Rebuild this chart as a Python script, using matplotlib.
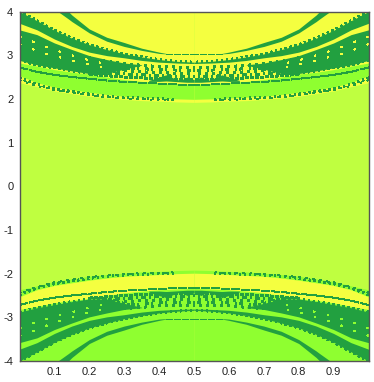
import matplotlib
matplotlib.use("Agg")
import matplotlib.pyplot as plt
import numpy as np

plt.rcParams['font.family'] = ['Liberation Sans', 'DejaVu Sans']
plt.rcParams['axes.unicode_minus'] = False

# Attractor colours
YELLOW = '#F4FF40'; MID = '#BFFF40'; GREEN = '#8FFF30'; DARK = '#22A040'

x_ticks = [0.1, 0.2, 0.3, 0.4, 0.5, 0.6, 0.7, 0.8, 0.9]
y_ticks = [-4, -3, -2, -1, 0, 1, 2, 3, 4]

knots = [0, .05, .10, .15, .20, .25, .30, .35, .40, .45, .50]
yellow_low = [2.37, 2.28, 2.18, 2.12, 2.06, 2.02, 1.99, 1.96, 1.95, 1.93, 1.92]
green_top = [2.82, 2.75, 2.67, 2.61, 2.57, 2.50, 2.44, 2.40, 2.37, 2.35, 2.34]
green_low = [2.53, 2.37, 2.27, 2.21, 2.15, 2.10, 2.06, 2.04, 2.02, 2.00, 1.99]
b_top = [4.00, 3.79, 3.57, 3.39, 3.24, 3.13, 3.03, 2.96, 2.90, 2.86, 2.84]
b_low = [3.73, 3.58, 3.37, 3.20, 3.07, 2.99, 2.94, 2.88, 2.84, 2.82, 2.81]

c_x = [0, .05, .10, .15, .20, .25, .30, .35]
c_top = [3.58, 3.47, 3.28, 3.13, 2.99, 2.90, 2.82, 2.78]
c_low = [2.88, 2.78, 2.71, 2.64, 2.58, 2.58, 2.68, 2.77]

a_x = [.11, .14, .15, .20, .25, .30, .35, .40, .42]
a_top = [4.00, 4.00, 3.92, 3.60, 3.41, 3.29, 3.16, 3.07, 3.04]
a_low = [4.00, 3.83, 3.77, 3.51, 3.32, 3.20, 3.11, 3.04, 3.03]

blob_x = [.37, .40, .42, .44, .46, .48, .50]
blob_top = [2.42, 2.50, 2.55, 2.48, 2.42, 2.50, 2.44]
blob_low = [2.40, 2.40, 2.41, 2.40, 2.39, 2.38, 2.38]

speck_x = [0, .05, .10, .15, .20, .25, .30, .35, .40, .45]
speck_y = [2.48, 2.33, 2.23, 2.17, 2.11, 2.06, 2.03, 2.02, 2.00, 1.99]
speck2_y = [2.43, 2.30, 2.20, 2.14, 2.08, 2.04, 2.01, 1.99, 1.98, 1.97]

mix_x = [.20, .25, .30, .35, .40, .45, .50]
mix_rows = [
    [2.94, 2.86, 2.80, 2.77, 2.74, 2.73, 2.72],
    [2.80, 2.76, 2.72, 2.69, 2.67, 2.66, 2.65],
    [2.71, 2.68, 2.65, 2.62, 2.60, 2.59, 2.58],
    [2.64, 2.60, 2.57, 2.55, 2.53, 2.52, 2.51],
    [2.56, 2.53, 2.50, 2.48, 2.46, 2.45, 2.45],
]
mix_patterns = [(1, 3.5), (2, 1.5, 1, 4), (1.5, 2.5), (3, 2, 1, 2), (2, 1.2)]
thin_x = [0, .05, .10, .15, .20, .25, .30, .35, .40, .45, .50]
thin_y = [2.72, 2.62, 2.55, 2.50, 2.46, 2.42, 2.39, 2.37, 2.35, 2.33, 2.32]
dash_x = [.42, .45, .50]
dash_y = [3.03, 3.03, 3.03]
hole_x = [0, .05, .10, .15, .20, .25]
hole_rows = [
    [3.25, 3.10, 2.98, 2.88, 2.78, 2.70],
    [3.42, 3.28, 3.12, 3.00, 2.88, 2.80],
]

fig = plt.figure(figsize=(3.74, 3.82), dpi=100)
ax = fig.add_axes([19.5 / 374, 1 - 361 / 382, 349 / 374, 349.5 / 382])
ax.set_facecolor(MID)


def fill(x, lo, hi, color, sign):
    x = np.array(x); lo = np.array(lo); hi = np.array(hi)
    for xs in (x, 1 - x):
        ax.fill_between(xs, sign * lo, sign * hi, color=color, lw=0, antialiased=False)


def dotted(x, y, color, sign, pattern, lw=1.3):
    x = np.array(x); y = np.array(y)
    for xs in (x, 1 - x):
        ax.plot(xs, sign * y, color=color, lw=lw, ls=(0, pattern),
                antialiased=False, dash_capstyle='butt')


top = [4.0] * len(knots)
for sign, outer, inner in ((1, YELLOW, GREEN), (-1, GREEN, YELLOW)):
    fill(knots, yellow_low, top, outer, sign)
    fill(knots, green_low, green_top, inner, sign)
    fill(a_x, a_low, a_top, DARK, sign)
    fill(knots, b_low, b_top, DARK, sign)
    fill(c_x, c_low, c_top, DARK, sign)
    fill(blob_x, blob_low, blob_top, DARK, sign)
    dotted(knots, b_top, DARK, sign, (1, 1.6), lw=1.4)
    dotted(c_x, c_low, DARK, sign, (1, 1.6), lw=1.4)
    dotted(speck_x, speck_y, DARK, sign, (1, 1.6), lw=1.4)
    dotted(speck_x, speck2_y, DARK, sign, (1, 4), lw=1.0)
    for row, pat in zip(mix_rows, mix_patterns):
        dotted(mix_x, row, DARK, sign, pat, lw=1.2)
    dotted(thin_x, thin_y, DARK, sign, (6, 1), lw=1.0)
    dotted(dash_x, dash_y, DARK, sign, (5, 1.5), lw=0.9)
    for row in hole_rows:
        dotted(hole_x, row, outer, sign, (1, 9), lw=1.0)

ax.set_xlim(0, 1)
ax.set_ylim(-4, 4)
ax.set_xticks(x_ticks)
ax.set_yticks(y_ticks)
ax.tick_params(length=0, labelsize=8, pad=4.5, labelcolor='#222222')
for s in ax.spines.values():
    s.set_color('#555555')
    s.set_linewidth(1.0)
fig.savefig('out.png', dpi=100)
